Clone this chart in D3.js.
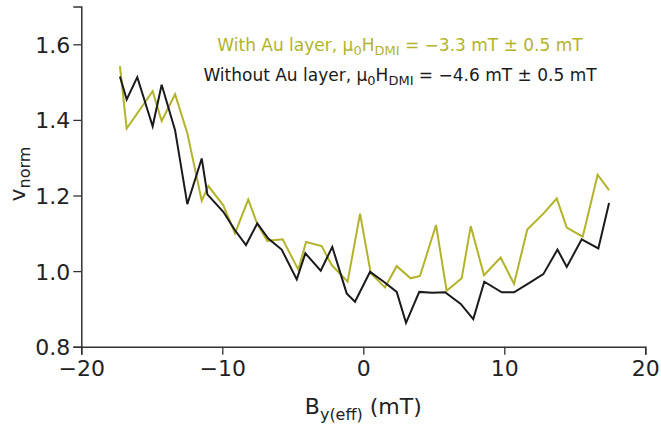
<!DOCTYPE html>
<html>
<head>
<meta charset="utf-8">
<script src="https://cdn.jsdelivr.net/npm/d3@7"></script>
<style>
	body { margin: 0; background: #fff; }
	text { font-family: "DejaVu Sans", sans-serif; }
</style>
</head>
<body>
<script>
// field values (mT) and normalised velocity
var auField = [-17.26, -16.78, -14.94, -14.30, -13.35, -12.48, -11.46, -10.99, -9.93, -9.10, -8.16, -7.52, -6.81, -5.72, -4.61, -4.06, -2.95, -2.24, -1.11, -0.23, 0.53, 1.54, 2.37, 3.36, 4.02, 5.16, 5.91, 6.98, 7.62, 8.56, 9.74, 10.69, 11.63, 12.77, 13.72, 14.43, 15.56, 16.62, 17.43];
var auVnorm = [1.542, 1.377, 1.476, 1.397, 1.468, 1.365, 1.186, 1.225, 1.174, 1.100, 1.189, 1.125, 1.080, 1.084, 1.004, 1.077, 1.066, 1.016, 0.972, 1.152, 0.994, 0.957, 1.013, 0.981, 0.987, 1.122, 0.948, 0.981, 1.119, 0.989, 1.036, 0.966, 1.110, 1.152, 1.192, 1.115, 1.091, 1.255, 1.214];

var noAuField = [-17.26, -16.78, -16.03, -14.94, -14.30, -13.35, -12.48, -11.46, -11.06, -9.93, -9.10, -8.32, -7.52, -6.74, -5.79, -4.72, -4.11, -3.02, -2.20, -1.18, -0.59, 0.48, 1.45, 2.37, 3.03, 3.97, 4.90, 5.80, 6.91, 7.80, 8.58, 9.82, 10.69, 11.75, 12.77, 13.77, 14.43, 15.49, 16.67, 17.43];
var noAuVnorm = [1.515, 1.454, 1.513, 1.383, 1.493, 1.373, 1.177, 1.298, 1.203, 1.157, 1.108, 1.069, 1.126, 1.086, 1.057, 0.978, 1.047, 1.001, 1.064, 0.941, 0.919, 0.998, 0.972, 0.945, 0.863, 0.945, 0.943, 0.944, 0.913, 0.873, 0.972, 0.944, 0.944, 0.968, 0.992, 1.057, 1.011, 1.084, 1.060, 1.180];

var xTicks = [-20, -10, 0, 10, 20];
var yTicks = [0.8, 1.0, 1.2, 1.4, 1.6];

var olive = "#b2b32b",
	dark = "#1a1a1a",
	axisColor = "#333";

var width = 661,
	height = 426,
	margin = { left: 81.3, right: 15.7, top: 6.5, bottom: 79.3 };

var svg = d3.select("body").append("svg")
	.attr("width", width)
	.attr("height", height);

var x = d3.scaleLinear().domain([-20, 20]).range([margin.left, width - margin.right]);
var y = d3.scaleLinear().domain([0.8, 1.7]).range([height - margin.bottom, margin.top]);

// axes
var xAxis = svg.append("g")
	.attr("transform", "translate(0," + y(0.8) + ")")
	.call(d3.axisBottom(x).tickValues(xTicks).tickSize(8).tickPadding(6)
		.tickFormat(function (d) { return d < 0 ? "\u2212" + Math.abs(d) : d; }));

var yAxis = svg.append("g")
	.attr("transform", "translate(" + x(-20) + ",0)")
	.call(d3.axisLeft(y).tickValues(yTicks).tickSize(8).tickPadding(3).tickFormat(d3.format(".1f")));

[xAxis, yAxis].forEach(function (a) {
	a.select(".domain").attr("stroke", axisColor).attr("stroke-width", 1.5);
	a.selectAll(".tick line").attr("stroke", axisColor).attr("stroke-width", 1.3);
	a.selectAll(".tick text")
		.attr("fill", "#222")
		.style("font-size", "22px")
		.style("font-family", "DejaVu Sans, sans-serif");
});
yAxis.selectAll(".tick text").attr("dy", "0.36em");

// lines
var line = d3.line()
	.x(function (d) { return x(d[0]); })
	.y(function (d) { return y(d[1]); });

svg.append("path")
	.datum(d3.zip(auField, auVnorm))
	.attr("fill", "none")
	.attr("stroke", olive)
	.attr("stroke-width", 2)
	.attr("stroke-linejoin", "miter")
	.attr("d", line);

svg.append("path")
	.datum(d3.zip(noAuField, noAuVnorm))
	.attr("fill", "none")
	.attr("stroke", dark)
	.attr("stroke-width", 2)
	.attr("stroke-linejoin", "miter")
	.attr("d", line);

// legend text
function legendLine(yPos, color, label, value) {
	var t = svg.append("text")
		.attr("x", 400)
		.attr("y", yPos)
		.attr("text-anchor", "middle")
		.attr("fill", color)
		.style("font-size", "17px");
	t.append("tspan").text(label + ", \u03bc");
	t.append("tspan").attr("dy", 4).style("font-size", "13px").text("0");
	t.append("tspan").attr("dy", -4).text("H");
	t.append("tspan").attr("dy", 4).style("font-size", "13px").text("DMI");
	t.append("tspan").attr("dy", -4).text(" = \u2212" + value + " mT \u00b1 0.5 mT");
}
legendLine(51, olive, "With Au layer", "3.3");
legendLine(81, dark, "Without Au layer", "4.6");

// axis titles
var xt = svg.append("text")
	.attr("x", x(0))
	.attr("y", 414)
	.attr("text-anchor", "middle")
	.attr("fill", "#222")
	.style("font-size", "22px");
xt.append("tspan").text("B");
xt.append("tspan").attr("dy", 6).style("font-size", "16px").text("y(eff)");
xt.append("tspan").attr("dy", -6).text(" (mT)");

var yt = svg.append("text")
	.attr("transform", "translate(25,174) rotate(-90)")
	.attr("text-anchor", "middle")
	.attr("fill", "#222")
	.style("font-size", "22px");
yt.append("tspan").text("v");
yt.append("tspan").attr("dy", 5).style("font-size", "16px").text("norm");
</script>
</body>
</html>
